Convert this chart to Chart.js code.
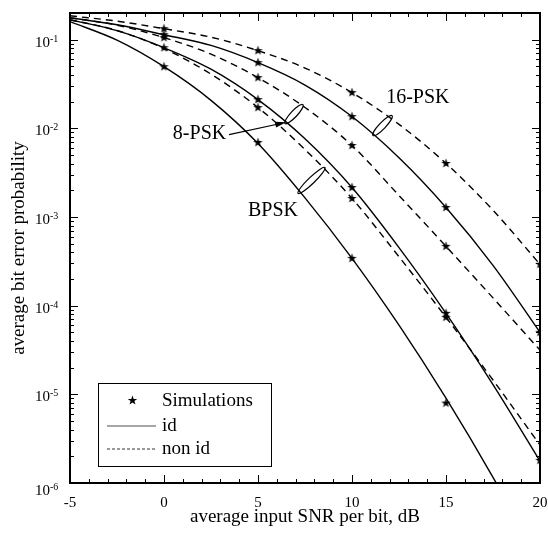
<!DOCTYPE html>
<html>
<head>
<meta charset="utf-8">
<script src="https://cdn.jsdelivr.net/npm/chart.js@4.4.1/dist/chart.umd.min.js"></script>
<style>
  html, body { margin: 0; padding: 0; background: #fff; }
</style>
</head>
<body>
<canvas id="ber-chart" width="548" height="534"></canvas>
<script>
// SNR grid (dB) the curves are read at
const snr = [-5, -2.5, 0, 2.5, 5, 7.5, 10, 12.5, 15, 17.5, 20];

// analytical curves
const psk16NonId = [0.186, 0.162, 0.133, 0.1067, 0.0752, 0.0479, 0.0253, 0.0111, 4.02e-3, 1.194e-3, 2.92e-4];
const psk16Id    = [0.177, 0.1472, 0.1138, 0.0861, 0.0551, 0.0308, 0.01358, 4.65e-3, 1.28e-3, 2.85e-4, 5.01e-5];
const psk8NonId  = [0.177, 0.1457, 0.1054, 0.0687, 0.0373, 0.0172, 6.4e-3, 1.747e-3, 4.67e-4, 1.224e-4, 3.15e-5];
const psk8Id     = [0.168, 0.1263, 0.0812, 0.0465, 0.0211, 7.63e-3, 2.15e-3, 4.52e-4, 8.2e-5, 1.29e-5, 1.77e-6];
const bpskNonId  = [0.168, 0.1271, 0.0793, 0.0409, 0.01715, 5.77e-3, 1.62e-3, 3.56e-4, 7.4e-5, 1.45e-5, 2.68e-6];
const bpskId     = [0.160, 0.0988, 0.0496, 0.0207, 6.75e-3, 1.645e-3, 3.42e-4, 6.03e-5, 9.06e-6, 1.16e-6, 1.26e-7];

// simulation points
const simSnr = [0, 0, 0, 0, 0,
                5, 5, 5, 5, 5, 5,
                10, 10, 10, 10, 10, 10,
                15, 15, 15, 15, 15, 15,
                20, 20, 20];
const simBer = [0.133, 0.1138, 0.1054, 0.0812, 0.0496,
                0.0752, 0.0551, 0.0373, 0.0211, 0.01715, 6.92e-3,
                0.0253, 0.01358, 6.4e-3, 2.15e-3, 1.62e-3, 3.42e-4,
                4.02e-3, 1.28e-3, 4.67e-4, 8.2e-5, 7.4e-5, 7.96e-6,
                2.93e-4, 5.0e-5, 1.8e-6];

// axis ticks
const xTicks = [-5, 0, 5, 10, 15, 20];
const yDecades = [-6, -5, -4, -3, -2, -1];

// labels / ellipses / arrow, in data coordinates
const curveLabels = [
  { text: "16-PSK", x: 13.5, y: 0.0222 },
  { text: "8-PSK", x: 1.89, y: 8.73e-3 },
  { text: "BPSK", x: 5.8, y: 1.186e-3 }
];
const ellipses = [
  { from: [11.12, 8.3e-3], to: [12.13, 0.0139] },
  { from: [6.44, 0.01132], to: [7.39, 0.01854] },
  { from: [7.13, 1.845e-3], to: [8.56, 3.62e-3] }
];
const arrow8psk = { from: [3.46, 8.5e-3], to: [6.5, 0.0117] };

const SERIF = "'Liberation Serif', 'DejaVu Serif', serif";

// small filled star for the simulation markers
function makeStar() {
  const c = document.createElement("canvas");
  c.width = 11; c.height = 11;
  const g = c.getContext("2d");
  g.fillStyle = "#000";
  g.beginPath();
  for (let i = 0; i < 10; i++) {
    const r = i % 2 === 0 ? 5 : 2;
    const a = -Math.PI / 2 + i * Math.PI / 5;
    const px = 5.5 + r * Math.cos(a), py = 5.5 + r * Math.sin(a);
    if (i === 0) g.moveTo(px, py); else g.lineTo(px, py);
  }
  g.closePath();
  g.fill();
  return c;
}
const starImg = makeStar();

function curve(label, values, dashed) {
  return {
    label: label,
    data: snr.map((x, i) => ({ x: x, y: values[i] })),
    showLine: true,
    borderColor: "#000",
    borderWidth: 1.4,
    borderDash: dashed ? [7, 5] : [],
    pointRadius: 0,
    cubicInterpolationMode: "monotone",
    fill: false
  };
}

// frame, inward ticks, y labels, notes, legend
const decorations = {
  id: "decorations",
  afterDraw(chart) {
    const ctx = chart.ctx;
    const xs = chart.scales.x, ys = chart.scales.y;
    const a = chart.chartArea;
    const P = (x, y) => [xs.getPixelForValue(x), ys.getPixelForValue(y)];
    ctx.save();
    ctx.strokeStyle = "#000";
    ctx.fillStyle = "#000";

    // ticks on all four sides
    ctx.lineWidth = 1;
    ctx.beginPath();
    for (let v = -5; v <= 20; v++) {
      const px = Math.round(xs.getPixelForValue(v)) + 0.5;
      const len = v % 5 === 0 ? 8 : 4;
      ctx.moveTo(px, a.bottom); ctx.lineTo(px, a.bottom - len);
      ctx.moveTo(px, a.top); ctx.lineTo(px, a.top + len);
    }
    yDecades.forEach(e => {
      for (let m = 1; m <= 9; m++) {
        const v = m * Math.pow(10, e);
        if (v > ys.max) break;
        const py = Math.round(ys.getPixelForValue(v)) + 0.5;
        const len = m === 1 ? 8 : 4;
        ctx.moveTo(a.left, py); ctx.lineTo(a.left + len, py);
        ctx.moveTo(a.right, py); ctx.lineTo(a.right - len, py);
      }
    });
    ctx.stroke();

    ctx.lineWidth = 2;
    ctx.strokeRect(a.left, a.top, a.right - a.left, a.bottom - a.top);

    // y tick labels with superscripts
    yDecades.forEach(e => {
      const py = ys.getPixelForValue(Math.pow(10, e)) + (e === -6 ? 5 : 0);
      ctx.textAlign = "right";
      ctx.textBaseline = "alphabetic";
      ctx.font = "15px " + SERIF;
      ctx.fillText("10", 50, py + 7);
      ctx.textAlign = "left";
      ctx.font = "10px " + SERIF;
      ctx.fillText(String(e), 50, py + 2);
    });

    // curve labels
    ctx.font = "20px " + SERIF;
    ctx.textAlign = "center";
    ctx.textBaseline = "middle";
    curveLabels.forEach(l => {
      const [px, py] = P(l.x, l.y);
      ctx.fillText(l.text, px, py);
    });

    // ellipses grouping the pairs of curves
    ctx.lineWidth = 1.2;
    ellipses.forEach(el => {
      const [x1, y1] = P(el.from[0], el.from[1]);
      const [x2, y2] = P(el.to[0], el.to[1]);
      const cx = (x1 + x2) / 2, cy = (y1 + y2) / 2;
      const half = Math.hypot(x2 - x1, y2 - y1) / 2;
      ctx.beginPath();
      ctx.ellipse(cx, cy, half, 3.2, Math.atan2(y2 - y1, x2 - x1), 0, Math.PI * 2);
      ctx.stroke();
    });

    // arrow from the 8-PSK label
    const [ax1, ay1] = P(arrow8psk.from[0], arrow8psk.from[1]);
    const [ax2, ay2] = P(arrow8psk.to[0], arrow8psk.to[1]);
    const ang = Math.atan2(ay2 - ay1, ax2 - ax1);
    ctx.lineWidth = 1.2;
    ctx.beginPath();
    ctx.moveTo(ax1, ay1);
    ctx.lineTo(ax2 - 8 * Math.cos(ang), ay2 - 8 * Math.sin(ang));
    ctx.stroke();
    ctx.beginPath();
    ctx.moveTo(ax2, ay2);
    ctx.lineTo(ax2 - 11 * Math.cos(ang) + 3 * Math.sin(ang), ay2 - 11 * Math.sin(ang) - 3 * Math.cos(ang));
    ctx.lineTo(ax2 - 11 * Math.cos(ang) - 3 * Math.sin(ang), ay2 - 11 * Math.sin(ang) + 3 * Math.cos(ang));
    ctx.closePath();
    ctx.fill();

    // legend box
    const lx = a.left + 28, ly = a.bottom - 100;
    ctx.fillStyle = "#fff";
    ctx.fillRect(lx, ly, 173, 83);
    ctx.fillStyle = "#000";
    ctx.lineWidth = 1;
    ctx.strokeRect(lx + 0.5, ly + 0.5, 173, 83);
    ctx.drawImage(starImg, lx + 29, ly + 12);
    ctx.strokeStyle = "#888";
    ctx.lineWidth = 1.5;
    ctx.beginPath();
    ctx.moveTo(lx + 9, ly + 43); ctx.lineTo(lx + 58, ly + 43);
    ctx.stroke();
    ctx.strokeStyle = "#000";
    ctx.lineWidth = 0.8;
    ctx.setLineDash([3, 2]);
    ctx.beginPath();
    ctx.moveTo(lx + 9, ly + 66); ctx.lineTo(lx + 58, ly + 66);
    ctx.stroke();
    ctx.setLineDash([]);
    ctx.font = "19px " + SERIF;
    ctx.textAlign = "left";
    ctx.textBaseline = "middle";
    ctx.fillText("Simulations", lx + 64, ly + 18);
    ctx.fillText("id", lx + 64, ly + 43);
    ctx.fillText("non id", lx + 64, ly + 66);
    ctx.restore();
  }
};

new Chart(document.getElementById("ber-chart"), {
  type: "scatter",
  data: {
    datasets: [
      curve("16-PSK non id", psk16NonId, true),
      curve("16-PSK id", psk16Id, false),
      curve("8-PSK non id", psk8NonId, true),
      curve("8-PSK id", psk8Id, false),
      curve("BPSK non id", bpskNonId, true),
      curve("BPSK id", bpskId, false),
      {
        label: "Simulations",
        data: simSnr.map((x, i) => ({ x: x, y: simBer[i] })),
        pointStyle: starImg,
        showLine: false
      }
    ]
  },
  options: {
    responsive: false,
    animation: false,
    layout: { padding: { top: 13, right: 8, left: 0, bottom: 0 } },
    plugins: { legend: { display: false }, tooltip: { enabled: false } },
    scales: {
      x: {
        type: "linear",
        min: -5,
        max: 20,
        afterBuildTicks: scale => { scale.ticks = xTicks.map(v => ({ value: v })); },
        afterFit: scale => {
          scale.height = 51;
          scale.paddingLeft = 0;
          scale.paddingRight = 0;
        },
        grid: { display: false },
        border: { display: false },
        ticks: {
          color: "#000",
          padding: 3,
          maxRotation: 0,
          autoSkip: false,
          font: { family: SERIF, size: 15 }
        },
        title: {
          display: true,
          text: "average input SNR per bit, dB",
          color: "#000",
          padding: { top: 0, bottom: 6 },
          font: { family: SERIF, size: 19 }
        }
      },
      y: {
        type: "logarithmic",
        min: 1e-6,
        max: 0.2,
        afterFit: scale => {
          scale.width = 70;
          scale.paddingTop = 0;
          scale.paddingBottom = 0;
        },
        grid: { display: false },
        border: { display: false },
        ticks: { display: false },
        title: {
          display: true,
          text: "average bit error probability",
          color: "#000",
          padding: { top: 8, bottom: 0 },
          font: { family: SERIF, size: 19 }
        }
      }
    }
  },
  plugins: [decorations]
});
</script>
</body>
</html>
